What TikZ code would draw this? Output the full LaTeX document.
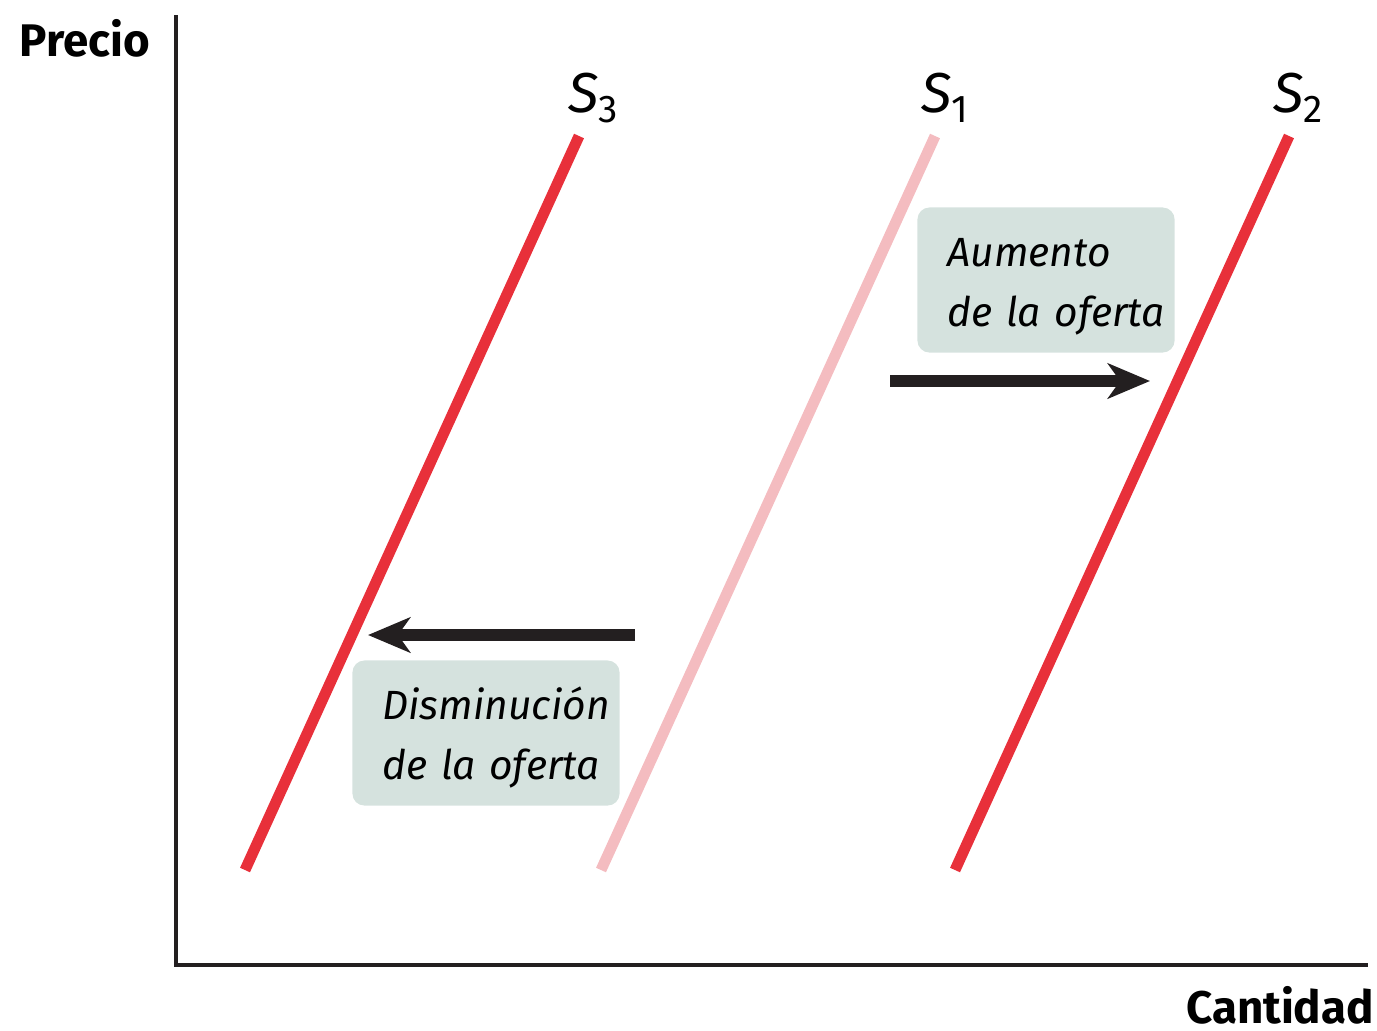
\documentclass[tikz,border=0pt]{standalone}
\usepackage{fontspec}
\setmainfont{Fira Sans}
\usepackage{xcolor}
\usepackage{tikz}
\usetikzlibrary{positioning,arrows.meta}
\definecolor{supplyred}{HTML}{E8303A}
\definecolor{supplypink}{HTML}{F4BCC0}
\definecolor{boxgray}{HTML}{D5E2DE}
\definecolor{arrowblack}{HTML}{231F20}
\tikzset{
  axis line/.style={
    draw=arrowblack,
    line width=0.9pt,
  },
  supply curve/.style={
    draw=#1,
    line width=3.1pt,
  },
  shift arrow/.style={
    draw=arrowblack,
    line width=3.4pt,
    -{Stealth[length=12pt,width=10pt,inset=3.5pt]},
  },
  shift box/.style={
    fill=boxgray,
    rounded corners=0.12cm,
    text width={#1},
    inner xsep=0.3cm,
    minimum height=1.45cm,
    align=left,
    font=\fontsize{11.6}{17}\selectfont\itshape,
  },
  axis label/.style={
    font=\fontsize{13}{13}\selectfont\bfseries,
  },
  curve label/.style={
    font=\fontsize{16}{16}\selectfont,
  },
}
\newcommand{\curvename}[1]{\textit{S}\raisebox{-0.35ex}{\fontsize{11}{11}\selectfont #1}}
\newcommand{\boxline}[1]{\mbox{\rule{0pt}{12pt}#1}}

\begin{document}
\begin{tikzpicture}[x=0.01cm, y=-0.01cm]
    \useasboundingbox (0,0) rectangle (1377,1030);

    % axes
    \coordinate (origin) at (176,965);
    \coordinate (ytop) at (176,15);
    \coordinate (xend) at (1368,965);
    \draw [axis line] (ytop) -- (origin) -- (xend);
    \node [axis label] (precio) at (85,38) {Precio};
    \node [axis label] (cantidad) at (1280,1005) {Cantidad};

    % supply curves
    \coordinate (s3 low) at (245,870);
    \coordinate (s3 high) at (579,136);
    \coordinate (s1 low) at (601,870);
    \coordinate (s1 high) at (935,136);
    \coordinate (s2 low) at (955,870);
    \coordinate (s2 high) at (1289,136);
    \draw [supply curve=supplypink] (s1 low) -- (s1 high);
    \draw [supply curve=supplyred] (s3 low) -- (s3 high);
    \draw [supply curve=supplyred] (s2 low) -- (s2 high);
    \node [curve label] (s3) at (593,98) {\curvename{3}};
    \node [curve label] (s1) at (945,98) {\curvename{1}};
    \node [curve label] (s2) at (1298,98) {\curvename{2}};

    % shifts
    \node [shift box=1.97cm] (aumento) at (1046,280) {\boxline{Aumento}\\\mbox{de la oferta}};
    \coordinate (aumento start) at (890,381);
    \coordinate (aumento end) at (1150,381);
    \draw [shift arrow] (aumento start) -- (aumento end);

    \node [shift box=2.07cm] (disminucion) at (486,733) {\boxline{Disminución}\\\mbox{de la oferta}};
    \coordinate (disminucion start) at (635,635);
    \coordinate (disminucion end) at (368,635);
    \draw [shift arrow] (disminucion start) -- (disminucion end);
\end{tikzpicture}
\end{document}
